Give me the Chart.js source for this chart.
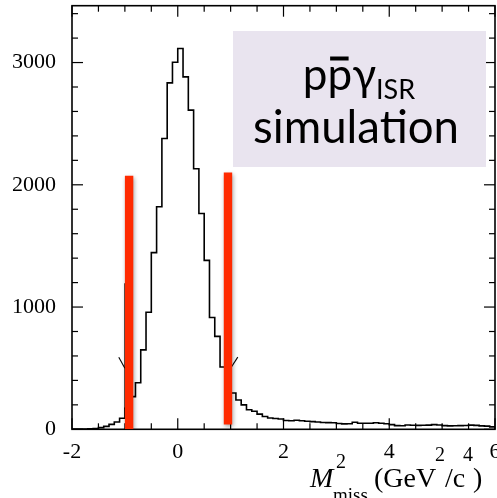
<!DOCTYPE html>
<html><head><meta charset="utf-8">
<script src="https://cdn.jsdelivr.net/npm/chart.js@4"></script>
<style>
html,body{margin:0;padding:0;overflow:hidden;background:#fff;}
#wrap{position:relative;width:497px;height:498px;}
</style></head><body>
<div id="wrap"><canvas id="c"></canvas></div>
<script>
// Histogram bin edges (GeV^2/c^4) and counts per bin
const binEdges = [-2.0,-1.9,-1.8,-1.7,-1.6,-1.5,-1.4,-1.3,-1.2,-1.1,-1.0,-0.9,-0.8,-0.7,-0.6,-0.5,-0.4,-0.3,-0.2,-0.1,
  0.0,0.1,0.2,0.3,0.4,0.5,0.6,0.7,0.8,0.9,1.0,1.1,1.2,1.3,1.4,1.5,1.6,1.7,1.8,1.9,
  2.0,2.1,2.2,2.3,2.4,2.5,2.6,2.7,2.8,2.9,3.0,3.1,3.2,3.3,3.4,3.5,3.6,3.7,3.8,3.9,
  4.0,4.1,4.2,4.3,4.4,4.5,4.6,4.7,4.8,4.9,5.0,5.1,5.2,5.3,5.4,5.5,5.6,5.7,5.8,5.9,6.0];
const counts = [2,2,3,4,6,14,24,40,60,90,
  171,267,381,650,958,1445,1820,2379,2834,3003,
  3115,2883,2611,2131,1765,1382,915,760,510,400,
  297,240,200,160,148,124,105,92,88,84,
  72,70,74,70,66,63,60,56,55,54,
  47,44,45,58,50,49,50,54,50,45,
  38,30,29,35,33,32,33,34,38,35,
  30,28,29,30,31,34,32,28,26,20];

// Cut markers (red bars) and arrows
const cutBarX = [-0.92, 0.95];
const cutBarBottom = [0, 40];
const cutBarTop = [2073, 2101];
const arrowX = [-1.0, 1.0];
const arrowTop = [1194, 1194];
const arrowBottom = [171, 297];
const arrowTip = [500, 500];
const arrowWingX = [-1.115, 1.135];
const arrowWingY = [590, 590];

// Axis ticks
const xMajorTicks = [-2, 0, 2, 4, 6];
const xMinorTicks = [-2,-1.5,-1,-0.5,0,0.5,1,1.5,2,2.5,3,3.5,4,4.5,5,5.5,6];
const yMajorTicks = [0, 1000, 2000, 3000];
const yMinorTicks = [0,200,400,600,800,1000,1200,1400,1600,1800,2000,2200,2400,2600,2800,3000,3200,3400];

const histPoints = counts.map((c, i) => ({x: binEdges[i], y: c}));
histPoints.push({x: binEdges[binEdges.length - 1], y: counts[counts.length - 1]});

const RED = '#ff2a00';
const datasets = [];
cutBarX.forEach((x, i) => {
  datasets.push({type: 'line', data: [{x, y: cutBarBottom[i]}, {x, y: cutBarTop[i]}],
    borderColor: RED, borderWidth: 8.4, pointRadius: 0, borderCapStyle: 'butt', isCut: true});
});
arrowX.forEach((x, i) => {
  datasets.push({type: 'line', data: [{x, y: arrowTop[i]}, {x, y: arrowBottom[i]}],
    borderColor: '#000', borderWidth: 1.1, pointRadius: 0});
  datasets.push({type: 'line', data: [{x: arrowWingX[i], y: arrowWingY[i]}, {x, y: arrowTip[i]}],
    borderColor: '#000', borderWidth: 1.1, pointRadius: 0});
});
datasets.push({type: 'line', data: histPoints, stepped: 'before', borderColor: '#000',
  borderWidth: 1.6, pointRadius: 0, fill: false});

const shadowPlugin = {
  id: 'shadow',
  beforeDatasetDraw(chart, args) {
    if (args.meta && chart.data.datasets[args.index].isCut) {
      const ctx = chart.ctx;
      ctx.save();
      ctx.shadowColor = 'rgba(0,0,0,0.35)';
      ctx.shadowBlur = 4;
      ctx.shadowOffsetX = 1;
      ctx.shadowOffsetY = 2;
    }
  },
  afterDatasetDraw(chart, args) {
    if (args.meta && chart.data.datasets[args.index].isCut) chart.ctx.restore();
  }
};

function seg(ctx, x1, y1, x2, y2) { ctx.beginPath(); ctx.moveTo(x1, y1); ctx.lineTo(x2, y2); ctx.stroke(); }

const framePlugin = {
  id: 'frame',
  beforeDatasetsDraw(chart) {
    const {ctx, chartArea: a, scales: {x, y}} = chart;
    ctx.save();
    ctx.strokeStyle = '#000';
    ctx.lineWidth = 1.2;
    yMinorTicks.forEach(v => {
      const py = y.getPixelForValue(v);
      const len = yMajorTicks.includes(v) ? 11 : 6;
      seg(ctx, a.left, py, a.left + len, py);
      seg(ctx, a.right, py, a.right - len, py);
    });
    xMinorTicks.forEach(v => {
      const px = x.getPixelForValue(v);
      const len = xMajorTicks.includes(v) ? 11 : 6;
      seg(ctx, px, a.bottom, px, a.bottom - len);
      seg(ctx, px, a.top, px, a.top + len);
    });
    ctx.lineWidth = 1.6;
    ctx.strokeRect(a.left, a.top, a.right - a.left, a.bottom - a.top);
    ctx.restore();
  },
  afterDraw(chart) {
    const ctx = chart.ctx;
    ctx.save();
    // label box
    ctx.fillStyle = 'rgb(233,228,239)';
    ctx.fillRect(233, 31, 253, 136);
    ctx.fillStyle = '#000';
    ctx.textBaseline = 'alphabetic';
    // line 1: p pbar gamma_ISR
    const f1 = '44px Lato', fs = '27px Lato';
    ctx.font = f1;
    const wp = ctx.measureText('p').width;
    const wg = ctx.measureText('\u03b3').width;
    ctx.font = fs;
    const wi = ctx.measureText('ISR').width;
    const total = wp * 2 + wg + wi;
    let cx = 359 - total / 2;
    ctx.font = f1;
    ctx.fillText('p', cx, 90); cx += wp;
    ctx.fillText('p', cx, 90);
    ctx.fillRect(cx + 0.06 * 44, 56.5, 0.42 * 44, 4);
    cx += wp;
    ctx.fillText('\u03b3', cx, 90); cx += wg;
    ctx.font = fs;
    ctx.fillText('ISR', cx, 99);
    // line 2
    ctx.font = '40px Lato';
    let w2 = ctx.measureText('simulation').width;
    const size2 = 40 * 206 / w2;
    ctx.font = size2.toFixed(1) + 'px Lato';
    w2 = ctx.measureText('simulation').width;
    ctx.fillText('simulation', 356 - w2 / 2, 143);

    // x axis title: M^2_miss (GeV^2/c^4)
    const big = '28px "Liberation Serif"', sm = '20px "Liberation Serif"', sub = '19px "Liberation Serif"';
    ctx.font = 'italic ' + big;
    ctx.fillText('M', 310, 487);
    ctx.font = sm;
    ctx.fillText('2', 336, 468);
    ctx.font = sub;
    ctx.fillText('miss', 333, 501);
    ctx.font = big;
    ctx.fillText('(GeV', 374, 487);
    ctx.font = sm;
    ctx.fillText('2', 435, 461);
    ctx.font = big;
    ctx.fillText('/c', 445, 487);
    ctx.font = sm;
    ctx.fillText('4', 463, 461);
    ctx.font = big;
    ctx.fillText(')', 473, 487);
    ctx.restore();
  }
};

new Chart(document.getElementById('c'), {
  type: 'line',
  data: {datasets},
  plugins: [shadowPlugin, framePlugin],
  options: {
    responsive: true,
    maintainAspectRatio: false,
    animation: false,
    devicePixelRatio: 1,
    layout: {padding: {top: 5.7, right: 2, left: 0, bottom: 0}},
    plugins: {legend: {display: false}, tooltip: {enabled: false}},
    scales: {
      x: {
        type: 'linear', min: -2, max: 6,
        grid: {display: false, drawTicks: false}, border: {display: false},
        ticks: {autoSkip: false, maxRotation: 0, padding: 10, color: '#000',
          font: {family: 'Liberation Serif', size: 22}, callback: v => String(v)},
        afterBuildTicks(s) { s.ticks = xMajorTicks.map(v => ({value: v})); },
        afterFit(s) { s.height = 68.7; s.paddingLeft = 0; s.paddingRight = 0; }
      },
      y: {
        type: 'linear', min: 0, max: 3465,
        grid: {display: false, drawTicks: false}, border: {display: false},
        ticks: {padding: 16, color: '#000',
          font: {family: 'Liberation Serif', size: 22}, callback: v => String(v)},
        afterBuildTicks(s) { s.ticks = yMajorTicks.map(v => ({value: v})); },
        afterFit(s) { s.width = 72; s.paddingTop = 0; s.paddingBottom = 0; }
      }
    }
  }
});
</script>
</body></html>
